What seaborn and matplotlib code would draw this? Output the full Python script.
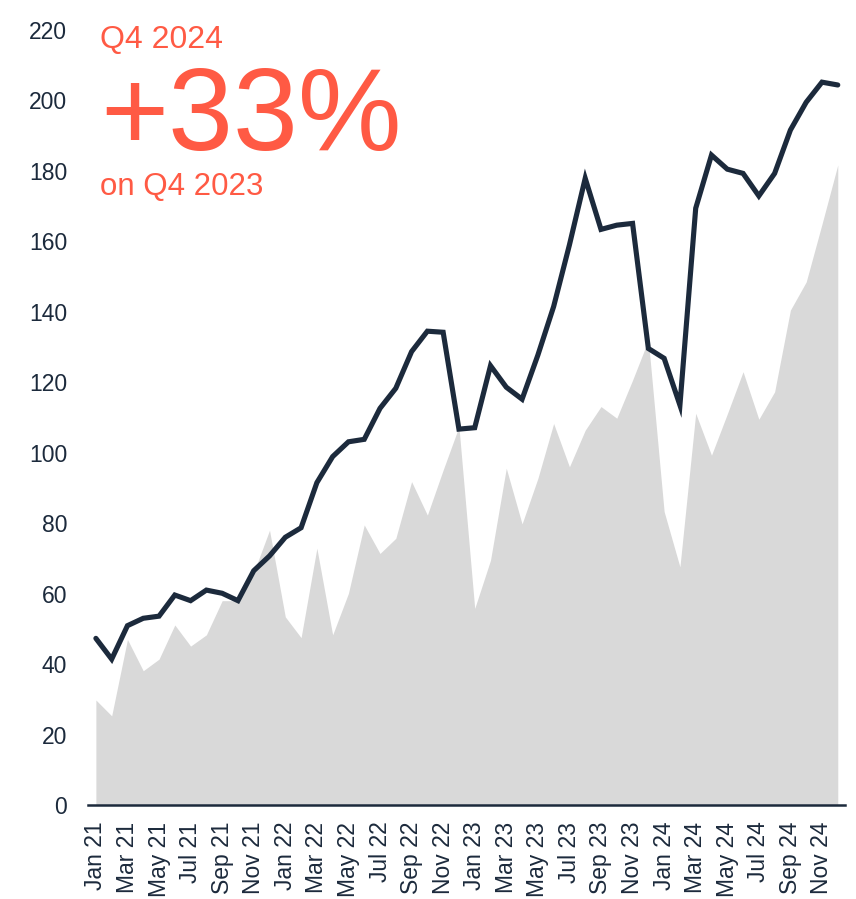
import numpy as np
import pandas as pd
import matplotlib
matplotlib.use("Agg")
from matplotlib import pyplot as plt
import seaborn as sns

months = ["Jan", "Feb", "Mar", "Apr", "May", "Jun",
          "Jul", "Aug", "Sep", "Oct", "Nov", "Dec"]
years = ["21", "22", "23", "24"]
labels = [f"{m} {y}" for y in years for m in months]

# dark line series
line_vals = [47.3, 41.4, 50.9, 53.0, 53.6, 59.6, 58.0, 61.0, 60.1, 58.0, 66.5, 70.7,
             76.0, 78.7, 91.5, 98.9, 103.1, 103.8, 112.6, 118.3, 128.7, 134.5, 134.2, 106.7,
             107.1, 124.7, 118.6, 115.2, 127.7, 141.5, 159.0, 177.9, 163.4, 164.6, 165.1, 129.6,
             126.8, 113.5, 169.4, 184.5, 180.5, 179.3, 172.9, 179.3, 191.6, 199.5, 205.2, 204.4]

# grey area series
area_vals = [29.8, 25.3, 47.0, 38.1, 41.4, 51.1, 45.1, 48.3, 58.0, 58.0, 66.0, 78.0,
             53.4, 47.5, 72.9, 48.3, 60.1, 79.5, 71.4, 75.7, 91.8, 82.3, 95.1, 107.4,
             55.8, 69.5, 95.6, 79.8, 92.7, 108.3, 96.0, 106.4, 113.1, 109.8, 120.6, 132.0,
             83.3, 67.6, 111.2, 99.3, 111.0, 123.0, 109.5, 117.3, 140.5, 148.5, 164.9, 181.7]

df = pd.DataFrame({"month": labels, "line": line_vals, "area": area_vals})
df["idx"] = range(len(df))

navy = "#1C2A3C"
coral = "#FF5A44"

sns.set_style("white")
plt.rcParams["font.family"] = ["Liberation Sans", "DejaVu Sans"]

fig = plt.figure(figsize=(8.56, 8.99), dpi=100)
ax = fig.add_axes([0.1028, 0.1046, 0.8842, 0.862])

ax.fill_between(df["idx"], df["area"], 0, color="#D9D9D9", linewidth=0, zorder=1)
sns.lineplot(data=df, x="idx", y="line", ax=ax, color=navy, linewidth=3.7,
             solid_joinstyle="miter", zorder=3)

ax.set_xlim(-0.5, 47.45)
ax.set_ylim(0, 220)
ax.set_yticks(range(0, 221, 20))
ax.set_xticks(df["idx"][::2])
ax.set_xticklabels(df["month"][::2], rotation=90)
ax.tick_params(axis="both", length=0, labelsize=16.5, labelcolor=navy)
ax.tick_params(axis="y", pad=15)
ax.tick_params(axis="x", pad=12)
ax.set_xlabel("")
ax.set_ylabel("")

sns.despine(ax=ax, left=True)
ax.spines["bottom"].set_color(navy)
ax.spines["bottom"].set_linewidth(1.8)

fig.text(100 / 856, 1 - 47.7 / 899, "Q4 2024", color=coral, fontsize=23,
         ha="left", va="baseline")
fig.text(100 / 856, 1 - 150 / 899, "+33%", color=coral, fontsize=84,
         ha="left", va="baseline")
fig.text(100 / 856, 1 - 195 / 899, "on Q4 2023", color=coral, fontsize=22.5,
         ha="left", va="baseline")

fig.savefig("out.png", dpi=100)
